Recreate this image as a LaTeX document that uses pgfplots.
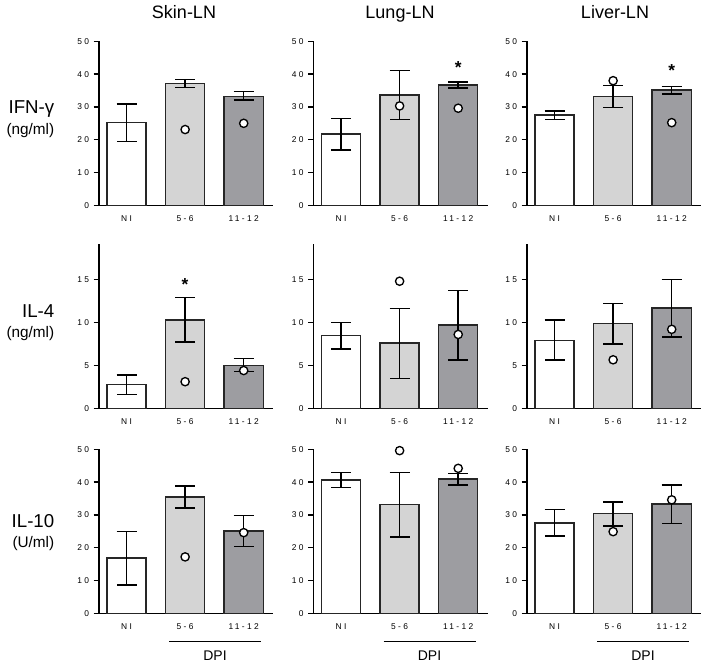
\documentclass[border=0pt]{standalone}
\usepackage{fontspec}
\setmainfont{Liberation Sans}
\newfontfamily\tickfont[LetterSpace=28]{Liberation Sans}
\usepackage{pgfplots}
\pgfplotsset{compat=1.18}
\definecolor{lg}{HTML}{D4D4D4}
\definecolor{dg}{HTML}{9D9DA1}
\definecolor{bl}{HTML}{262626}
\pgfplotsset{
 panel/.style={
  scale only axis, width=130.5pt, height=123pt,
  xmin=-0.47, xmax=2.5, ymin=0,
  axis x line=bottom, axis y line=left,
  axis line style={-, line width=1pt, black},
  xtick={0,1,2}, xticklabels={NI,5-6,11-12}, xtick style={draw=none},
  tick align=outside, major tick length=4pt,
  ytick style={line width=1pt, black},
  tick label style={font=\tickfont\fontsize{6.3}{7}\selectfont},
  /pgf/number format/assume math mode=true,
  clip=false,
 },
 bars/.style={ybar, bar width=0.667, bar shift=0pt, draw=bl, line width=1.1pt,
  error bars/y dir=both, error bars/y explicit,
  error bars/error mark=|,
  error bars/error bar style={line width=1.1pt, black},
  error bars/error mark options={mark size=7.5pt, line width=1.1pt, black}},
 dots/.style={only marks, mark=*, mark size=3.1pt, mark options={fill=white, draw=black, line width=1pt}},
}
\begin{document}
\begin{tikzpicture}
\begin{scope}[x=0.75pt,y=-0.75pt]
\path[use as bounding box] (0,0) rectangle (710,662);
\coordinate (A11) at (99,205.3);
\coordinate (A12) at (313.5,205.3);
\coordinate (A13) at (527,205.3);
\coordinate (A21) at (99,408.3);
\coordinate (A22) at (313.5,408.3);
\coordinate (A23) at (527,408.3);
\coordinate (A31) at (99,613.3);
\coordinate (A32) at (313.5,613.3);
\coordinate (A33) at (527,613.3);
% titles
\node[anchor=base, font=\fontsize{13.5}{15}\selectfont] at (184,18.3) {Skin-LN};
\node[anchor=base, font=\fontsize{13.5}{15}\selectfont] at (400,18.3) {Lung-LN};
\node[anchor=base, font=\fontsize{13.5}{15}\selectfont] at (615,18.3) {Liver-LN};
% row labels
\node[anchor=base east, inner sep=0pt, font=\fontsize{14}{16}\selectfont] at (54.5,113.3) {IFN-γ};
\node[anchor=base east, inner sep=0pt, font=\fontsize{11.5}{13}\selectfont] at (54.5,134) {(ng/ml)};
\node[anchor=base east, inner sep=0pt, font=\fontsize{14}{16}\selectfont] at (54.5,317.7) {IL-4};
\node[anchor=base east, inner sep=0pt, font=\fontsize{11.5}{13}\selectfont] at (54.5,337.7) {(ng/ml)};
\node[anchor=base east, inner sep=0pt, font=\fontsize{14}{16}\selectfont] at (54.5,527.7) {IL-10};
\node[anchor=base east, inner sep=0pt, font=\fontsize{11.5}{13}\selectfont] at (54.5,547) {(U/ml)};
% DPI brackets
\draw[line width=0.8pt] (169,641.7) -- (261,641.7);
\draw[line width=0.8pt] (383.5,641.7) -- (475.5,641.7);
\draw[line width=0.8pt] (597,641.7) -- (689,641.7);
\node[anchor=base, font=\fontsize{10.5}{12}\selectfont] at (215,660) {DPI};
\node[anchor=base, font=\fontsize{10.5}{12}\selectfont] at (429.5,660) {DPI};
\node[anchor=base, font=\fontsize{10.5}{12}\selectfont] at (643,660) {DPI};
\end{scope}

% ---------- Row 1: IFN-gamma ----------
\begin{axis}[panel, at={(A11)}, anchor=south west, ymax=50, ytick={0,10,20,30,40,50}]
\addplot[fill=white, bars] coordinates {(0,25.3) += (0,5.6) -= (0,5.9)};
\addplot[fill=lg, bars] coordinates {(1,37.1) += (0,1.3) -= (0,1.1)};
\addplot[fill=dg, bars] coordinates {(2,33.1) += (0,1.6) -= (0,1.0)};
\addplot[dots] coordinates {(1,23.1) (2,25.0)};
\end{axis}
\begin{axis}[panel, at={(A12)}, anchor=south west, ymax=50, ytick={0,10,20,30,40,50}, yticklabel={}]
\addplot[fill=white, bars] coordinates {(0,21.7) += (0,4.8) -= (0,4.9)};
\addplot[fill=lg, bars] coordinates {(1,33.7) += (0,7.4) -= (0,7.6)};
\addplot[fill=dg, bars] coordinates {(2,36.7) += (0,0.9) -= (0,1.0)};
\addplot[dots] coordinates {(1,30.3) (2,29.6)};
\node[anchor=base, font=\bfseries\fontsize{13}{14}\selectfont, inner sep=0pt] at (axis cs:2,42.6) [yshift=-6pt] {*};
\end{axis}
\begin{axis}[panel, at={(A13)}, anchor=south west, ymax=50, ytick={0,10,20,30,40,50}, yticklabel={}]
\addplot[fill=white, bars] coordinates {(0,27.5) += (0,1.2) -= (0,1.4)};
\addplot[fill=lg, bars] coordinates {(1,33.2) += (0,3.3) -= (0,3.4)};
\addplot[fill=dg, bars] coordinates {(2,35.2) += (0,1.0) -= (0,1.2)};
\addplot[dots] coordinates {(1,38.0) (2,25.2)};
\node[anchor=base, font=\bfseries\fontsize{13}{14}\selectfont, inner sep=0pt] at (axis cs:2,41.6) [yshift=-6pt] {*};
\end{axis}

% ---------- Row 2: IL-4 ----------
\begin{axis}[panel, at={(A21)}, anchor=south west, ymax=19.1, ytick={0,5,10,15}]
\addplot[fill=white, bars] coordinates {(0,2.8) += (0,1.1) -= (0,1.2)};
\addplot[fill=lg, bars] coordinates {(1,10.3) += (0,2.6) -= (0,2.6)};
\addplot[fill=dg, bars] coordinates {(2,5.0) += (0,0.8) -= (0,0.7)};
\addplot[dots] coordinates {(1,3.1) (2,4.4)};
\node[anchor=base, font=\bfseries\fontsize{13}{14}\selectfont, inner sep=0pt] at (axis cs:1,14.6) [yshift=-6pt] {*};
\end{axis}
\begin{axis}[panel, at={(A22)}, anchor=south west, ymax=19.1, ytick={0,5,10,15}, yticklabel={}]
\addplot[fill=white, bars] coordinates {(0,8.45) += (0,1.55) -= (0,1.55)};
\addplot[fill=lg, bars] coordinates {(1,7.6) += (0,4.0) -= (0,4.1)};
\addplot[fill=dg, bars] coordinates {(2,9.7) += (0,4.05) -= (0,4.1)};
\addplot[dots] coordinates {(1,14.8) (2,8.6)};
\end{axis}
\begin{axis}[panel, at={(A23)}, anchor=south west, ymax=19.1, ytick={0,5,10,15}, yticklabel={}]
\addplot[fill=white, bars] coordinates {(0,7.9) += (0,2.4) -= (0,2.3)};
\addplot[fill=lg, bars] coordinates {(1,9.9) += (0,2.3) -= (0,2.4)};
\addplot[fill=dg, bars] coordinates {(2,11.7) += (0,3.3) -= (0,3.4)};
\addplot[dots] coordinates {(1,5.65) (2,9.2)};
\end{axis}

% ---------- Row 3: IL-10 ----------
\begin{axis}[panel, at={(A31)}, anchor=south west, ymax=50, ytick={0,10,20,30,40,50}]
\addplot[fill=white, bars] coordinates {(0,16.9) += (0,8.1) -= (0,8.2)};
\addplot[fill=lg, bars] coordinates {(1,35.5) += (0,3.3) -= (0,3.4)};
\addplot[fill=dg, bars] coordinates {(2,25.1) += (0,4.7) -= (0,4.8)};
\addplot[dots] coordinates {(1,17.2) (2,24.6)};
\end{axis}
\begin{axis}[panel, at={(A32)}, anchor=south west, ymax=50, ytick={0,10,20,30,40,50}, yticklabel={}]
\addplot[fill=white, bars] coordinates {(0,40.65) += (0,2.25) -= (0,2.25)};
\addplot[fill=lg, bars] coordinates {(1,33.1) += (0,9.8) -= (0,9.8)};
\addplot[fill=dg, bars] coordinates {(2,41.0) += (0,1.7) -= (0,1.9)};
\addplot[dots] coordinates {(1,49.6) (2,44.2)};
\end{axis}
\begin{axis}[panel, at={(A33)}, anchor=south west, ymax=50, ytick={0,10,20,30,40,50}, yticklabel={}]
\addplot[fill=white, bars] coordinates {(0,27.6) += (0,4.1) -= (0,4.0)};
\addplot[fill=lg, bars] coordinates {(1,30.4) += (0,3.6) -= (0,3.8)};
\addplot[fill=dg, bars] coordinates {(2,33.3) += (0,5.8) -= (0,5.9)};
\addplot[dots] coordinates {(1,24.9) (2,34.6)};
\end{axis}
\end{tikzpicture}
\end{document}
